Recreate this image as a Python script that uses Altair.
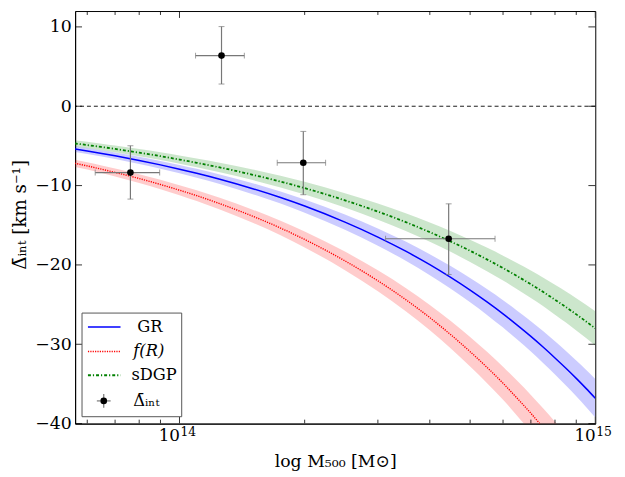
import altair as alt
import pandas as pd

# ---- model curves ----
mass = [5.6e13, 6e13, 6.5e13, 7e13, 8e13, 9e13, 1e14, 1.1e14, 1.25e14, 1.5e14,
        1.75e14, 2e14, 2.5e14, 3e14, 3.5e14, 4e14, 4.5e14, 5e14, 5.5e14, 6e14,
        6.5e14, 7e14, 7.5e14, 8e14, 8.5e14, 9e14, 9.5e14, 1e15]
gr = [-5.39, -5.64, -5.95, -6.25, -6.83, -7.39, -7.93, -8.45, -9.20, -10.39,
      -11.51, -12.58, -14.61, -16.49, -18.27, -19.97, -21.61, -23.18, -24.70, -26.17,
      -27.62, -29.01, -30.38, -31.72, -33.02, -34.30, -35.56, -36.8]
gr_hw = [0.36, 0.37, 0.39, 0.41, 0.45, 0.49, 0.52, 0.56, 0.61, 0.69,
         0.76, 0.83, 0.96, 1.09, 1.21, 1.32, 1.43, 1.53, 1.63, 1.73,
         1.82, 1.91, 2.01, 2.09, 2.18, 2.26, 2.35, 2.43]
fr = [-7.19, -7.52, -7.94, -8.34, -9.11, -9.86, -10.58, -11.27, -12.28, -13.86,
      -15.35, -16.79, -19.49, -22.0, -24.37, -26.64, -28.83, -30.93, -32.95, -34.91,
      -36.85, -38.70, -40.53, -42.32, -44.05, -45.76, -47.44, -49.1]
fr_hw = [0.45, 0.46, 0.48, 0.50, 0.55, 0.59, 0.63, 0.68, 0.74, 0.83,
         0.92, 1.01, 1.17, 1.32, 1.46, 1.60, 1.73, 1.86, 1.98, 2.09,
         2.21, 2.32, 2.43, 2.54, 2.64, 2.75, 2.85, 2.95]
sdgp = [-4.69, -4.89, -5.14, -5.38, -5.85, -6.29, -6.72, -7.13, -7.71, -8.64,
        -9.50, -10.32, -11.86, -13.28, -14.60, -15.87, -17.07, -18.22, -19.33, -20.40,
        -21.44, -22.44, -23.42, -24.39, -25.31, -26.23, -27.12, -28.0]
sdgp_hw = [0.40, 0.41, 0.42, 0.43, 0.46, 0.49, 0.52, 0.55, 0.60, 0.67,
           0.73, 0.79, 0.91, 1.02, 1.12, 1.22, 1.31, 1.40, 1.49, 1.57,
           1.65, 1.73, 1.80, 1.88, 1.95, 2.02, 2.09, 2.15]

# ---- measured points ----
pt_mass = [7.62e13, 1.262e14, 1.985e14, 4.44e14]
pt_mass_lo = [6.27e13, 1.093e14, 1.718e14, 3.13e14]
pt_mass_hi = [8.96e13, 1.432e14, 2.246e14, 5.74e14]
pt_val = [-8.36, 6.38, -7.12, -16.7]
pt_val_lo = [-11.7, 2.8, -11.15, -21.2]
pt_val_hi = [-4.98, 10.04, -3.17, -12.3]

# ---- axis ticks ----
x_major = [1e14, 1e15]
x_major_exp = ["14", "15"]
x_minor = [6e13, 7e13, 8e13, 9e13, 2e14, 3e14, 4e14, 5e14, 6e14, 7e14, 8e14, 9e14]
y_major = [-40, -30, -20, -10, 0, 10]

W, H = 527, 418
FONT = "DejaVu Serif"

xs = alt.Scale(type="log", domain=[5.61e13, 1e15], nice=False)
ys = alt.Scale(domain=[-40, 12], nice=False, zero=False)

def curve_df(vals, hw):
    return pd.DataFrame({
        "mass": mass, "v": vals,
        "lo": [a - b for a, b in zip(vals, hw)],
        "hi": [a + b for a, b in zip(vals, hw)],
    })

xaxis = alt.Axis(values=x_major, labelExpr="'10'", labelAlign="right",
                 ticks=False, grid=False, labelFontSize=17, labelFont=FONT,
                 labelPadding=4, labelColor="black", domainColor="black",
                 title="log M₅₀₀ [M⊙]", titleFont=FONT, titleFontSize=17.5,
                 titleFontWeight="normal", titleColor="black", titleY=43,
                 titleBaseline="alphabetic", labelFlush=False, labelOverlap=False)
yaxis = alt.Axis(values=y_major, ticks=False, grid=False, labelFontSize=17.5,
                 labelFont=FONT, labelPadding=4, labelColor="black", domainColor="black",
                 title="Δ̄ᵢₙₜ  [km s⁻¹]", titleFont=FONT, titleFontSize=18.5,
                 titleFontWeight="normal", titleColor="black", titleAngle=270,
                 titleX=-56, titleY=206, titleBaseline="middle", titleAlign="center")

def band(vals, hw, color, first=False):
    d = curve_df(vals, hw)
    if first:
        x = alt.X("mass:Q", scale=xs, axis=xaxis)
        y = alt.Y("lo:Q", scale=ys, axis=yaxis)
    else:
        x = alt.X("mass:Q", scale=xs)
        y = alt.Y("lo:Q", scale=ys)
    return alt.Chart(d).mark_area(color=color, opacity=0.2, clip=True,
                                  interpolate="monotone").encode(x=x, y=y, y2="hi:Q")

def line(vals, hw, color, dash, width):
    d = curve_df(vals, hw)
    kw = dict(color=color, strokeWidth=width, clip=True, interpolate="monotone")
    if dash:
        kw["strokeDash"] = dash
    return alt.Chart(d).mark_line(**kw).encode(
        x=alt.X("mass:Q", scale=xs), y=alt.Y("v:Q", scale=ys))

layers = [
    band(gr, gr_hw, "#0000ff", first=True),
    band(fr, fr_hw, "#ff0000"),
    band(sdgp, sdgp_hw, "#008000"),
    line(gr, gr_hw, "#0000ff", None, 1.5),
    line(fr, fr_hw, "#ff0000", [1.2, 1.2], 1.4),
    line(sdgp, sdgp_hw, "#008000", [3, 2, 1.2, 2], 1.8),
]

zero = alt.Chart(pd.DataFrame({"y": [0]})).mark_rule(
    color="black", strokeWidth=0.9, strokeDash=[4, 3]).encode(
    y=alt.Y("y:Q", scale=ys))
layers.append(zero)

pts = pd.DataFrame({"m": pt_mass, "mlo": pt_mass_lo, "mhi": pt_mass_hi,
                    "v": pt_val, "vlo": pt_val_lo, "vhi": pt_val_hi})
EC = "#777777"
base = alt.Chart(pts)
layers += [
    base.mark_rule(color=EC, strokeWidth=1.2).encode(
        x=alt.X("m:Q", scale=xs), y=alt.Y("vlo:Q", scale=ys), y2="vhi:Q"),
    base.mark_rule(color=EC, strokeWidth=1.2).encode(
        x=alt.X("mlo:Q", scale=xs), x2="mhi:Q", y=alt.Y("v:Q", scale=ys)),
    base.mark_tick(color=EC, orient="horizontal", size=6, thickness=1).encode(
        x=alt.X("m:Q", scale=xs), y=alt.Y("vlo:Q", scale=ys)),
    base.mark_tick(color=EC, orient="horizontal", size=6, thickness=1).encode(
        x=alt.X("m:Q", scale=xs), y=alt.Y("vhi:Q", scale=ys)),
    base.mark_tick(color=EC, orient="vertical", size=6, thickness=1).encode(
        x=alt.X("mlo:Q", scale=xs), y=alt.Y("v:Q", scale=ys)),
    base.mark_tick(color=EC, orient="vertical", size=6, thickness=1).encode(
        x=alt.X("mhi:Q", scale=xs), y=alt.Y("v:Q", scale=ys)),
    base.mark_circle(color="black", opacity=1, size=45).encode(
        x=alt.X("m:Q", scale=xs), y=alt.Y("v:Q", scale=ys)),
]

# superscript exponents of the x tick labels
exp_df = pd.DataFrame({"t": x_major, "e": x_major_exp})
layers.append(alt.Chart(exp_df).mark_text(
    font=FONT, fontSize=12.5, align="left", baseline="alphabetic", dx=1,
    color="black").encode(x=alt.X("t:Q", scale=xs), y=alt.value(H + 13), text="e:N"))

# inward ticks on all four sides
TC = "black"
xmaj = pd.DataFrame({"t": x_major})
xmin = pd.DataFrame({"t": x_minor})
ymaj = pd.DataFrame({"t": y_major})
for df, ln in ((xmaj, 7), (xmin, 4)):
    c = alt.Chart(df)
    layers.append(c.mark_rule(color=TC, strokeWidth=0.8, clip=True).encode(
        x=alt.X("t:Q", scale=xs), y=alt.value(H), y2=alt.value(H - ln)))
    layers.append(c.mark_rule(color=TC, strokeWidth=0.8, clip=True).encode(
        x=alt.X("t:Q", scale=xs), y=alt.value(0), y2=alt.value(ln)))
c = alt.Chart(ymaj)
layers.append(c.mark_rule(color=TC, strokeWidth=0.8).encode(
    y=alt.Y("t:Q", scale=ys), x=alt.value(0), x2=alt.value(7)))
layers.append(c.mark_rule(color=TC, strokeWidth=0.8).encode(
    y=alt.Y("t:Q", scale=ys), x=alt.value(W - 7), x2=alt.value(W)))

# legend (decoration)
one = pd.DataFrame({"a": [0]})
lg = alt.Chart(one)
layers += [
    lg.mark_rect(fill="white", stroke="#555555", strokeWidth=1).encode(
        x=alt.value(7), x2=alt.value(108), y=alt.value(H - 112), y2=alt.value(H - 7)),
    lg.mark_rule(color="#0000ff", strokeWidth=1.5).encode(
        x=alt.value(13), x2=alt.value(46), y=alt.value(H - 98)),
    lg.mark_rule(color="#ff0000", strokeWidth=1.4, strokeDash=[1.2, 1.2]).encode(
        x=alt.value(13), x2=alt.value(46), y=alt.value(H - 73)),
    lg.mark_rule(color="#008000", strokeWidth=1.8, strokeDash=[3, 2, 1.2, 2]).encode(
        x=alt.value(13), x2=alt.value(46), y=alt.value(H - 49)),
    lg.mark_rule(color=EC, strokeWidth=1.2).encode(
        x=alt.value(22), x2=alt.value(36), y=alt.value(H - 23)),
    lg.mark_rule(color=EC, strokeWidth=1.2).encode(
        x=alt.value(29), y=alt.value(H - 30), y2=alt.value(H - 16)),
    lg.mark_circle(color="black", opacity=1, size=45).encode(
        x=alt.value(29), y=alt.value(H - 23)),
]
leg_txt = [("GR", 63, 98, "normal"), ("f(R)", 59, 73, "italic"),
           ("sDGP", 57, 49, "normal"), ("Δ̄ᵢₙₜ", 59, 23, "normal")]
for t, xx, yy, st in leg_txt:
    layers.append(lg.mark_text(text=t, font=FONT, fontSize=16.5, fontStyle=st,
                               align="left", baseline="middle", color="black").encode(
        x=alt.value(xx), y=alt.value(H - yy)))

chart = alt.layer(*layers).properties(
    width=W, height=H,
    autosize=alt.AutoSizeParams(type="none"),
    padding={"left": 68, "top": 0, "right": 22, "bottom": 50},
    background="white",
).configure_view(stroke="black", strokeWidth=1)

chart.save("out.html", embed_options={"renderer": "svg", "actions": False})
